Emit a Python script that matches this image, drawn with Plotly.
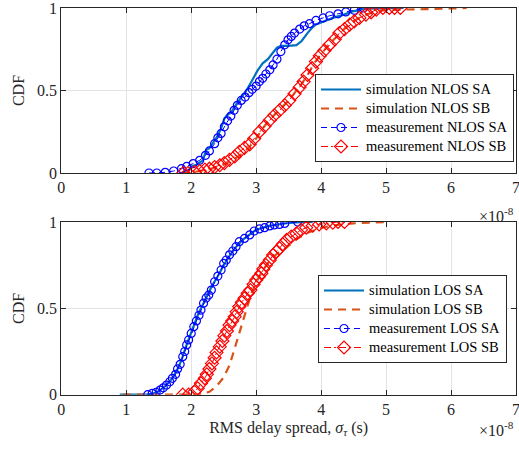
import plotly.graph_objects as go

# x values in units of 1e-8 s
nlos_sim_sa_x = [1.85, 1.95, 2.0, 2.08, 2.18, 2.23, 2.28, 2.33, 2.40, 2.46, 2.51, 2.55, 2.62, 2.70, 2.78, 2.85, 2.95, 3.02, 3.10, 3.18, 3.26, 3.32, 3.38, 3.50, 3.62, 3.70, 3.79, 3.86, 3.92, 4.05, 4.18, 4.35, 4.49, 4.69, 5.0, 5.27]
nlos_sim_sa_y = [0, 0.01, 0.04, 0.05, 0.077, 0.14, 0.15, 0.18, 0.22, 0.27, 0.33, 0.35, 0.37, 0.42, 0.46, 0.50, 0.57, 0.62, 0.665, 0.69, 0.73, 0.76, 0.77, 0.77, 0.775, 0.80, 0.848, 0.88, 0.90, 0.92, 0.94, 0.96, 0.98, 0.996, 1.0, 1.0]

nlos_sim_sb_x = [1.85, 2.1, 2.3, 2.5, 2.65, 2.8, 2.9, 3.0, 3.1, 3.2, 3.35, 3.5, 3.6, 3.7, 3.8, 3.9, 4.0, 4.1, 4.2, 4.3, 4.4, 4.5, 4.6, 4.7, 4.8, 4.95, 5.2, 5.6, 6.0, 6.24]
nlos_sim_sb_y = [0, 0.01, 0.025, 0.05, 0.08, 0.12, 0.16, 0.21, 0.27, 0.32, 0.38, 0.44, 0.49, 0.54, 0.60, 0.67, 0.72, 0.77, 0.81, 0.85, 0.89, 0.92, 0.945, 0.96, 0.975, 0.985, 0.99, 0.993, 0.996, 1.0]

nlos_meas_sa_x = [1.35, 1.47, 1.60, 1.73, 1.85, 1.93, 2.03, 2.13, 2.22, 2.28, 2.36, 2.41, 2.46, 2.51, 2.56, 2.61, 2.66, 2.71, 2.77, 2.83, 2.89, 2.94, 3.00, 3.05, 3.10, 3.15, 3.21, 3.26, 3.32, 3.38, 3.44, 3.49, 3.54, 3.59, 3.67, 3.74, 3.82, 3.92, 4.03, 4.13, 4.26, 4.38, 4.51, 4.65]
nlos_meas_sa_y = [0, 0, 0.004, 0.012, 0.026, 0.04, 0.057, 0.077, 0.107, 0.134, 0.178, 0.213, 0.24, 0.28, 0.316, 0.345, 0.38, 0.41, 0.44, 0.46, 0.487, 0.507, 0.527, 0.554, 0.574, 0.60, 0.625, 0.655, 0.69, 0.736, 0.777, 0.807, 0.828, 0.848, 0.872, 0.892, 0.905, 0.925, 0.94, 0.953, 0.965, 0.976, 0.986, 1.0]

nlos_meas_sb_x = [1.88, 1.95, 2.05, 2.13, 2.21, 2.28, 2.36, 2.44, 2.51, 2.59, 2.67, 2.74, 2.82, 2.90, 2.97, 3.05, 3.13, 3.21, 3.28, 3.36, 3.44, 3.51, 3.59, 3.67, 3.73, 3.79, 3.86, 3.92, 3.98, 4.05, 4.13, 4.21, 4.28, 4.36, 4.44, 4.51, 4.59, 4.69, 4.77, 4.85, 4.95, 5.05, 5.13, 5.22]
nlos_meas_sb_y = [0, 0, 0.006, 0.012, 0.02, 0.026, 0.036, 0.047, 0.06, 0.08, 0.10, 0.128, 0.152, 0.174, 0.209, 0.25, 0.284, 0.32, 0.35, 0.38, 0.41, 0.44, 0.48, 0.52, 0.554, 0.594, 0.635, 0.675, 0.71, 0.742, 0.777, 0.81, 0.848, 0.872, 0.899, 0.919, 0.94, 0.96, 0.974, 0.99, 1.0, 1.0, 1.0, 1.0]

los_sim_sa_x = [0.9, 1.3, 1.40, 1.5, 1.6, 1.7, 1.78, 1.85, 1.92, 2.0, 2.05, 2.1, 2.15, 2.2, 2.25, 2.32, 2.4, 2.5, 2.6, 2.7, 2.8, 2.9, 3.0, 3.2, 3.4, 3.6, 3.87]
los_sim_sa_y = [0, 0, 0.005, 0.02, 0.05, 0.09, 0.14, 0.2, 0.28, 0.36, 0.42, 0.46, 0.50, 0.54, 0.58, 0.63, 0.68, 0.75, 0.81, 0.86, 0.90, 0.93, 0.955, 0.978, 0.99, 0.997, 1.0]

los_sim_sb_x = [0.95, 2.1, 2.2, 2.28, 2.38, 2.49, 2.59, 2.67, 2.72, 2.79, 2.85, 2.92, 3.0, 3.1, 3.2, 3.3, 3.46, 3.62, 3.77, 3.97, 4.18, 4.49, 4.98]
los_sim_sb_y = [0, 0, 0.008, 0.017, 0.046, 0.095, 0.17, 0.27, 0.336, 0.42, 0.5, 0.58, 0.65, 0.72, 0.77, 0.81, 0.85, 0.9, 0.934, 0.963, 0.98, 0.992, 1.0]

los_meas_sa_x = [1.33, 1.40, 1.46, 1.52, 1.57, 1.62, 1.67, 1.71, 1.76, 1.79, 1.83, 1.87, 1.90, 1.93, 1.96, 2.0, 2.04, 2.08, 2.12, 2.15, 2.19, 2.23, 2.27, 2.31, 2.36, 2.41, 2.46, 2.50, 2.54, 2.59, 2.64, 2.69, 2.74, 2.82, 2.90, 2.97, 3.05, 3.13, 3.21, 3.28, 3.36, 3.44, 3.64]
los_meas_sa_y = [0, 0.008, 0.013, 0.027, 0.04, 0.056, 0.075, 0.095, 0.118, 0.149, 0.176, 0.22, 0.25, 0.288, 0.317, 0.355, 0.394, 0.427, 0.46, 0.49, 0.53, 0.56, 0.577, 0.606, 0.654, 0.687, 0.722, 0.76, 0.78, 0.81, 0.832, 0.857, 0.886, 0.905, 0.925, 0.948, 0.96, 0.967, 0.977, 0.983, 0.986, 0.992, 1.0]

los_meas_sb_x = [1.87, 1.96, 2.05, 2.10, 2.15, 2.21, 2.24, 2.28, 2.32, 2.36, 2.39, 2.44, 2.48, 2.51, 2.55, 2.59, 2.63, 2.67, 2.70, 2.74, 2.78, 2.82, 2.87, 2.91, 2.96, 3.0, 3.04, 3.08, 3.11, 3.15, 3.21, 3.26, 3.31, 3.36, 3.41, 3.47, 3.54, 3.62, 3.69, 3.77, 3.87, 3.97, 4.08, 4.18, 4.26, 4.36]
los_meas_sb_y = [0, 0, 0.017, 0.037, 0.066, 0.095, 0.118, 0.149, 0.181, 0.214, 0.245, 0.278, 0.311, 0.342, 0.369, 0.403, 0.427, 0.452, 0.48, 0.51, 0.535, 0.558, 0.587, 0.606, 0.639, 0.664, 0.683, 0.703, 0.728, 0.751, 0.78, 0.809, 0.828, 0.847, 0.871, 0.896, 0.915, 0.934, 0.954, 0.967, 0.979, 0.986, 0.992, 0.996, 1.0, 1.0]

x_ticks = [0, 1, 2, 3, 4, 5, 6, 7]
y_ticks = [0, 0.5, 1]
y_tick_labels = ["0", "0.5", "1"]

top_names = ["simulation NLOS SA", "simulation NLOS SB", "measurement NLOS SA", "measurement NLOS SB"]
bot_names = ["simulation LOS SA", "simulation LOS SB", "measurement LOS SA", "measurement LOS SB"]

C_SIM_A = "#0072BD"
C_SIM_B = "#D95319"
C_MEAS_A = "#0000FF"
C_MEAS_B = "#FF0000"
FONT = "Liberation Serif, Times New Roman, serif"


def lg(name):
    # legend text drawn a little larger than the row spacing font
    return '<span style="font-size:14.5px">' + name + '</span>'


fig = go.Figure()


def add_set(data, names, xa, ya, legend):
    (sax, say), (sbx, sby), (max_, may), (mbx, mby) = data
    fig.add_trace(go.Scatter(x=sax, y=say, mode="lines", name=lg(names[0]), xaxis=xa, yaxis=ya, legend=legend,
                             line=dict(color=C_SIM_A, width=2.2)))
    fig.add_trace(go.Scatter(x=sbx, y=sby, mode="lines", name=lg(names[1]), xaxis=xa, yaxis=ya, legend=legend,
                             line=dict(color=C_SIM_B, width=2.2, dash="8px,6px")))
    fig.add_trace(go.Scatter(x=max_, y=may, mode="lines+markers", name=lg(names[2]), xaxis=xa, yaxis=ya, legend=legend,
                             line=dict(color=C_MEAS_A, width=1, dash="6px,4px"),
                             marker=dict(symbol="circle-open", size=8, color=C_MEAS_A, line=dict(width=1.2))))
    fig.add_trace(go.Scatter(x=mbx, y=mby, mode="lines+markers", name=lg(names[3]), xaxis=xa, yaxis=ya, legend=legend,
                             line=dict(color=C_MEAS_B, width=1, dash="7px,3px,2px,3px"),
                             marker=dict(symbol="diamond-open", size=10, color=C_MEAS_B, line=dict(width=1.2))))


add_set([(nlos_sim_sa_x, nlos_sim_sa_y), (nlos_sim_sb_x, nlos_sim_sb_y),
         (nlos_meas_sa_x, nlos_meas_sa_y), (nlos_meas_sb_x, nlos_meas_sb_y)], top_names, "x", "y", "legend")
add_set([(los_sim_sa_x, los_sim_sa_y), (los_sim_sb_x, los_sim_sb_y),
         (los_meas_sa_x, los_meas_sa_y), (los_meas_sb_x, los_meas_sb_y)], bot_names, "x2", "y2", "legend2")

W, H = 519, 452
xdom = [61.3 / W, 516 / W]

axis_common = dict(showline=True, linecolor="#262626", linewidth=1, mirror="ticks", ticks="inside",
                   ticklen=5, tickcolor="#262626", showgrid=True, gridcolor="#e3e3e3", gridwidth=1,
                   zeroline=False, automargin=False, ticklabeloverflow="allow",
                   tickfont=dict(family=FONT, size=16, color="#262626"))

xa = dict(axis_common, domain=xdom, range=[0, 7], tickvals=x_ticks, ticktext=[str(t) for t in x_ticks])
ya = dict(axis_common, range=[0, 1], tickvals=y_ticks, ticktext=y_tick_labels)

legend_common = dict(font=dict(family=FONT, size=12, color="#000000"), bgcolor="white",
                     bordercolor="#262626", borderwidth=1, itemwidth=40, tracegroupgap=0,
                     xanchor="left", yanchor="top")

fig.update_layout(
    width=W, height=H,
    margin=dict(l=0, r=0, t=0, b=0, autoexpand=False),
    paper_bgcolor="white", plot_bgcolor="white",
    showlegend=True,
    xaxis=dict(xa, anchor="y"),
    yaxis=dict(ya, domain=[1 - 173 / H, 1 - 8 / H], anchor="x",
               title=dict(text="CDF", font=dict(family=FONT, size=16, color="#262626"), standoff=8)),
    xaxis2=dict(xa, anchor="y2",
                title=dict(text="RMS delay spread, <i>σ</i><sub><i>τ</i></sub> (s)",
                           font=dict(family=FONT, size=16, color="#262626"), standoff=4)),
    yaxis2=dict(ya, domain=[1 - 394.7 / H, 1 - 222 / H], anchor="x2",
                title=dict(text="CDF", font=dict(family=FONT, size=16, color="#262626"), standoff=8)),
    legend=dict(legend_common, x=315 / W, y=1 - 74 / H),
    legend2=dict(legend_common, x=318 / W, y=1 - 275 / H),
    annotations=[
        dict(text="×10<sup>-8</sup>", xref="paper", yref="paper", x=516 / W, y=1 - 215 / H,
             xanchor="right", yanchor="middle", showarrow=False,
             font=dict(family=FONT, size=16, color="#262626")),
        dict(text="×10<sup>-8</sup>", xref="paper", yref="paper", x=516 / W, y=1 - 429 / H,
             xanchor="right", yanchor="middle", showarrow=False,
             font=dict(family=FONT, size=16, color="#262626")),
    ],
)

fig.write_html("out.html", config={"displayModeBar": False},
               post_script="document.body.style.margin='0';document.body.style.overflow='hidden';")
